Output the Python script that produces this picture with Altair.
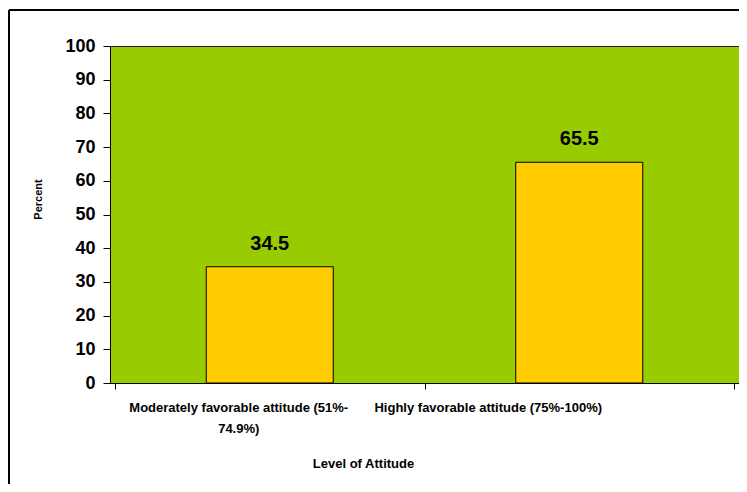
import altair as alt
import pandas as pd

categories = ["Moderately favorable attitude (51%-74.9%)", "Highly favorable attitude (75%-100%)"]
x_labels = ["Moderately favorable attitude (51%-\n74.9%)", "Highly favorable attitude (75%-100%)"]
percents = [34.5, 65.5]
y_ticks = list(range(0, 101, 10))
x_ticks = [0, 1, 2]

df = pd.DataFrame({"category": categories, "label": x_labels, "percent": percents})
df["pos"] = [i + 0.5 for i in range(len(categories))]

W, H = 629, 337
FONT = "Liberation Sans"

xscale = alt.Scale(domain=[0, 2], nice=False, zero=False)
yscale = alt.Scale(domain=[0, 100], nice=False)

x_axis = alt.Axis(
    values=x_ticks, labels=False, ticks=True, tickSize=6, tickColor="black",
    domainColor="black", grid=False,
    title="Level of Attitude", titleX=253, titleY=80, titleAlign="center",
    titleBaseline="middle", titleFont=FONT, titleFontSize=13,
    titleFontWeight="bold", titleColor="black",
)
y_axis = alt.Axis(
    values=y_ticks, tickSize=7, tickColor="black", domainColor="black",
    grid=False, labelFont=FONT, labelFontSize=18, labelFontWeight="bold",
    labelColor="black", labelPadding=8, labelOverlap=False,
    title="Percent", titleX=-72, titleY=153, titleAlign="center",
    titleBaseline="middle", titleFont=FONT, titleFontSize=11,
    titleFontWeight="bold", titleColor="black",
)

x_enc = alt.X("pos:Q", scale=xscale, axis=x_axis)
y_enc = alt.Y("percent:Q", scale=yscale, axis=y_axis)

base = alt.Chart(df)

bars = base.mark_bar(size=127, color="#FFCC00", stroke="black", strokeWidth=1).encode(
    x=x_enc, y=y_enc
)

values_text = base.mark_text(
    font=FONT, fontSize=20, fontWeight="bold", color="black",
    baseline="alphabetic", dy=-17,
).encode(x=x_enc, y=y_enc, text=alt.Text("percent:Q", format=".1f"))

lab1 = base.transform_filter(alt.datum.category == categories[0]).mark_text(
    font=FONT, fontSize=13, fontWeight="bold", color="black", baseline="top",
    lineBreak="\n", lineHeight=21, dx=-31,
).encode(x=x_enc, y=alt.value(H + 19), text="label:N")

lab2 = base.transform_filter(alt.datum.category == categories[1]).mark_text(
    font=FONT, fontSize=13, fontWeight="bold", color="black", baseline="top",
    lineBreak="\n", lineHeight=21, dx=-91,
).encode(x=x_enc, y=alt.value(H + 19), text="label:N")

frame = alt.Chart(pd.DataFrame({"frame": [0]}))
border_left = frame.mark_rule(color="black", strokeWidth=2).encode(
    x=alt.value(-101), y=alt.value(-36), y2=alt.value(H + 101)
)
border_top = frame.mark_rule(color="black", strokeWidth=2).encode(
    x=alt.value(-101), x2=alt.value(W), y=alt.value(-36)
)

chart = (
    alt.layer(border_left, border_top, bars, values_text, lab1, lab2)
    .properties(
        width=W, height=H,
        autosize=alt.AutoSizeParams(type="none"),
        padding={"left": 102, "top": 38, "right": 0, "bottom": 101},
        background="white",
    )
    .configure_view(fill="#99CC00", stroke="#222222", strokeWidth=1)
)

chart.save("out.html", embed_options={"renderer": "svg", "actions": False})
